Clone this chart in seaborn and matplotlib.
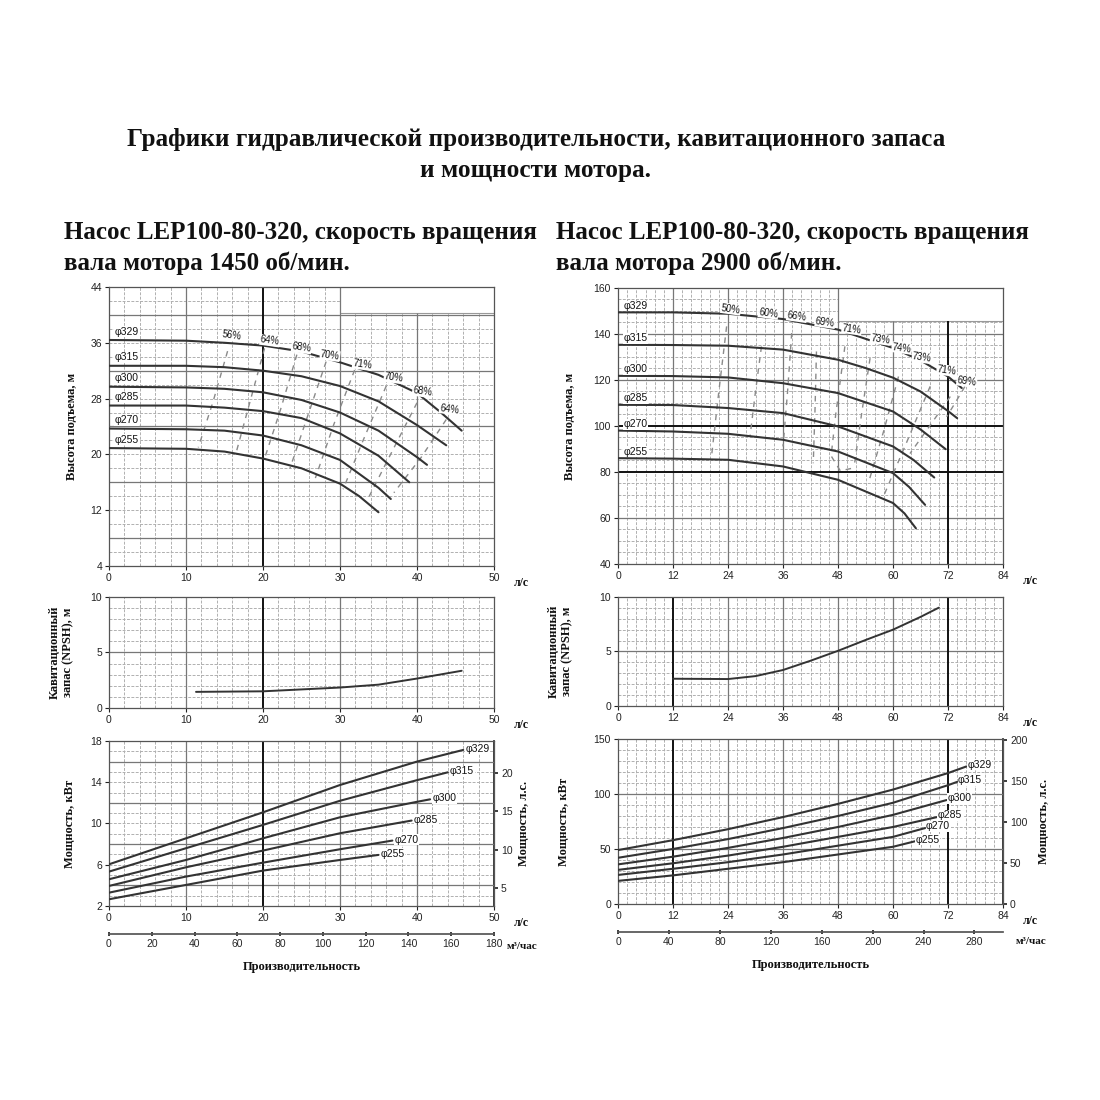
import matplotlib
matplotlib.use('Agg')
import matplotlib.pyplot as plt
import seaborn as sns

sns.set_theme(style='white')
plt.rcParams['font.family'] = ['Liberation Sans', 'DejaVu Sans']
plt.rcParams['text.color'] = '#111111'
plt.rcParams['axes.labelcolor'] = '#111111'

SERIF = ['Liberation Serif', 'DejaVu Serif']

# ---------------- data ----------------
diameters = ['φ329', 'φ315', 'φ300', 'φ285', 'φ270', 'φ255']

# 1450 rpm: head, л/с -> м
h1450_q = [[0, 10, 15, 20, 25, 30, 35, 40, 43, 45.8],
           [0, 10, 15, 20, 25, 30, 35, 40, 43.8],
           [0, 10, 15, 20, 25, 30, 35, 40, 41.3],
           [0, 10, 15, 20, 25, 30, 35, 39],
           [0, 10, 15, 20, 25, 30, 35, 36.6],
           [0, 10, 15, 20, 25, 30, 32.5, 35]]
h1450_h = [[36.4, 36.3, 36.0, 35.6, 34.75, 33.2, 31.4, 28.8, 26.1, 23.4],
           [32.7, 32.7, 32.5, 32.0, 31.2, 29.8, 27.6, 24.2, 21.3],
           [29.7, 29.6, 29.4, 28.9, 27.8, 26.0, 23.4, 19.6, 18.5],
           [27.0, 27.0, 26.7, 26.2, 25.2, 23.0, 19.8, 16.0],
           [23.7, 23.6, 23.4, 22.7, 21.3, 19.2, 15.2, 13.6],
           [20.9, 20.8, 20.4, 19.4, 18.0, 15.8, 14.0, 11.7]]

eff1450_labels = ['56%', '64%', '68%', '70%', '71%', '70%', '68%', '64%']
eff1450_lx = [15.9, 20.9, 25.0, 28.7, 32.9, 37.0, 40.7, 44.2]
eff1450_ly = [37.0, 36.3, 35.3, 34.2, 32.9, 31.0, 29.0, 26.5]
eff1450_q = [[15.4, 13.5, 11.6], [20.2, 18.3, 16.5], [24.4, 22.3, 20.2],
             [28.2, 25.8, 23.5], [31.9, 29.2, 26.8], [36.0, 33.0, 30.4],
             [40.0, 36.8, 33.8], [43.8, 40.5, 37.0]]
eff1450_h = [[34.8, 27.5, 21.0], [35.2, 27.5, 20.2], [34.3, 26.5, 19.4],
             [33.3, 25.5, 18.0], [32.1, 24.3, 16.6], [29.8, 22.0, 15.0],
             [27.4, 20.5, 14.0], [25.0, 19.5, 14.5]]

npsh1450_q = [11.3, 20, 30, 35, 40, 45.8]
npsh1450_v = [1.45, 1.5, 1.84, 2.1, 2.65, 3.35]

p1450_q = [[0, 10, 20, 30, 40, 46],
           [0, 10, 20, 30, 40, 44],
           [0, 10, 20, 30, 40, 41.7],
           [0, 10, 20, 30, 39.3],
           [0, 10, 20, 30, 36.8],
           [0, 10, 20, 30, 35]]
p1450_p = [[6.04, 8.56, 11.08, 13.73, 16.0, 17.13],
           [5.33, 7.6, 9.86, 12.2, 14.2, 14.96],
           [4.59, 6.46, 8.56, 10.6, 12.1, 12.34],
           [3.94, 5.75, 7.37, 9.05, 10.28],
           [3.29, 4.85, 6.2, 7.5, 8.34],
           [2.65, 4.04, 5.43, 6.46, 6.95]]

# 2900 rpm
h2900_q = [[0, 12, 24, 36, 48, 60, 66, 72, 75],
           [0, 12, 24, 36, 48, 54, 60, 66, 72, 74],
           [0, 12, 24, 36, 48, 60, 66, 71.5],
           [0, 12, 24, 36, 48, 60, 64.5, 69],
           [0, 12, 24, 36, 48, 60, 63.5, 67],
           [0, 12, 24, 36, 48, 60, 62.5, 65]]
h2900_h = [[149.4, 149.4, 148.8, 146.5, 141.9, 133.9, 128.5, 121.5, 116.5],
           [135.3, 135.2, 134.9, 133.2, 128.8, 125.2, 121.0, 115.0, 106.5, 103.4],
           [121.8, 121.7, 121.1, 118.6, 114.3, 106.3, 98.5, 89.9],
           [109.2, 109.1, 107.8, 105.6, 99.8, 91.1, 85.2, 77.6],
           [98.0, 97.6, 96.6, 94.0, 88.9, 79.5, 73.5, 65.7],
           [86.0, 85.8, 85.3, 82.4, 76.6, 66.5, 62.0, 55.5]]

eff2900_labels = ['50%', '60%', '66%', '69%', '71%', '73%', '74%', '73%', '71%', '69%']
eff2900_lx = [24.6, 32.8, 39.0, 45.2, 51.0, 57.2, 61.9, 66.3, 71.7, 76.1]
eff2900_ly = [150.9, 149.1, 147.7, 145.1, 142.2, 137.8, 133.9, 129.8, 124.2, 119.4]
eff2900_q = [[23.7, 22.0, 20.4], [31.3, 30.0, 28.8], [37.9, 37.0, 36.0],
             [43.3, 43.0, 42.6], [49.5, 47.5, 46.5, 48.5, 52.0],
             [55.0, 53.2, 51.5], [61.2, 58.0, 54.6], [68.1, 63.0, 57.9],
             [72.5, 68.0, 63.7], [75.7, 73.7, 71.7]]
eff2900_h = [[143.3, 115.0, 86.7], [134.6, 115.0, 95.4], [140.4, 115.0, 91.1],
             [132.4, 108.0, 83.8], [134.6, 105.0, 87.0, 80.5, 82.0],
             [129.5, 106.0, 82.0], [121.5, 98.0, 75.0], [117.2, 93.0, 69.3],
             [112.8, 100.0, 88.0], [117.2, 110.5, 104.0]]

npsh2900_q = [12, 24, 30, 36, 42, 48, 54, 60, 66, 70]
npsh2900_v = [2.5, 2.47, 2.74, 3.3, 4.15, 5.06, 6.05, 7.0, 8.17, 9.02]

p2900_q = [[0, 12, 24, 36, 48, 60, 72, 76],
           [0, 12, 24, 36, 48, 60, 72, 74],
           [0, 12, 24, 36, 48, 60, 71.7],
           [0, 12, 24, 36, 48, 60, 69.6],
           [0, 12, 24, 36, 48, 60, 67],
           [0, 12, 24, 36, 48, 60, 64.8]]
p2900_p = [[49, 58, 68, 79, 91, 104, 119, 125],
           [42, 50, 59, 69, 80, 92, 108, 111],
           [36, 43, 51, 60, 70, 81, 94.5],
           [31, 37, 44, 52, 61, 70, 79],
           [26.4, 32, 38, 45, 53, 61, 69],
           [21, 26, 32, 38, 45, 52, 57]]

KW_TO_HP = 1.341
LS_TO_M3H = 3.6

# ---------------- helpers ----------------
LINE = '#333333'
TICK_FS = 7.5


def grid(ax, xs, ys, xmaj, ymaj, xlim, ylim, cut=None, dark_x=(), dark_y=()):
    for v in xs:
        top = ylim[1]
        if cut is not None and v > cut[0]:
            top = cut[1]
        if v in dark_x:
            ax.vlines(v, ylim[0], top, color='#111111', lw=1.4, zorder=1.5)
        elif v % xmaj == 0:
            ax.vlines(v, ylim[0], top, color='#777777', lw=0.9, zorder=1.2)
        else:
            ax.vlines(v, ylim[0], top, color='#b0b0b0', lw=0.7,
                      linestyles=(0, (3, 1.5)), zorder=1)
    for v in ys:
        right = xlim[1]
        if cut is not None and v > cut[1]:
            right = cut[0]
        if v in dark_y:
            ax.hlines(v, xlim[0], right, color='#111111', lw=1.4, zorder=1.5)
        elif v % ymaj == 0:
            ax.hlines(v, xlim[0], right, color='#777777', lw=0.9, zorder=1.2)
        else:
            ax.hlines(v, xlim[0], right, color='#b0b0b0', lw=0.7,
                      linestyles=(0, (3, 1.5)), zorder=1)
    if cut is not None:
        ax.hlines(cut[1], cut[0], xlim[1], color='#999999', lw=0.8, zorder=1)


def style(ax, xlim, ylim, xticks, yticks):
    ax.set_xlim(*xlim)
    ax.set_ylim(*ylim)
    ax.set_xticks(xticks)
    ax.set_yticks(yticks)
    ax.tick_params(labelsize=TICK_FS, length=3, width=0.8, pad=2,
                   direction='out', bottom=True, left=True, colors='#222222')
    for s in ax.spines.values():
        s.set_color('#555555')
        s.set_linewidth(0.9)
    ax.annotate('л/с', xy=(1, 0), xycoords='axes fraction', xytext=(14, -12),
                textcoords='offset points', fontsize=8.5, family=SERIF,
                fontweight='bold', va='center', ha='left')


def curves(ax, qs, vs):
    for q, v in zip(qs, vs):
        sns.lineplot(x=q, y=v, ax=ax, color=LINE, lw=1.5, sort=False,
                     estimator=None, zorder=3)


def ylabel(ax, text, xpos):
    ax.set_ylabel(text, family=SERIF, fontweight='bold', fontsize=9)
    ax.yaxis.set_label_coords(xpos, 0.5)


fig = plt.figure(figsize=(11, 11), dpi=100)

fig.text(0.487, 0.873, 'Графики гидравлической производительности, кавитационного запаса',
         ha='center', va='center', family=SERIF, fontweight='bold', fontsize=18.2)
fig.text(0.487, 0.845, 'и мощности мотора.', ha='center', va='center',
         family=SERIF, fontweight='bold', fontsize=18.2)
fig.text(0.058, 0.7745, 'Насос LEP100-80-320, скорость вращения\nвала мотора 1450 об/мин.',
         ha='left', va='center', family=SERIF, fontweight='bold', fontsize=18,
         linespacing=1.45)
fig.text(0.505, 0.7745, 'Насос LEP100-80-320, скорость вращения\nвала мотора 2900 об/мин.',
         ha='left', va='center', family=SERIF, fontweight='bold', fontsize=18,
         linespacing=1.45)

# ================= 1450 rpm =================
L0, W = 109 / 1100, 385 / 1100
ax1 = fig.add_axes([L0, 0.4855, W, 0.2536])
xl, yl = (0, 50), (4, 44)
grid(ax1, range(2, 50, 2), range(6, 44, 2), 10, 8, xl, yl, cut=(30, 40.3),
     dark_x=(20,))
curves(ax1, h1450_q, h1450_h)
for q, h in zip(eff1450_q, eff1450_h):
    sns.lineplot(x=q, y=h, ax=ax1, color='#8a8a8a', lw=1.0, sort=False,
                 estimator=None, linestyle=(0, (4, 4)), zorder=2)
for lab, x, y in zip(eff1450_labels, eff1450_lx, eff1450_ly):
    ax1.text(x, y, lab, fontsize=7, ha='center', va='center', rotation=-8,
             zorder=4, bbox=dict(fc='white', ec='none', pad=0.3))
for lab, h in zip(diameters, h1450_h):
    ax1.text(0.7, h[0] + 1.2, lab, fontsize=7.5, ha='left', va='center',
             zorder=4, bbox=dict(fc='white', ec='none', pad=0.3))
style(ax1, xl, yl, range(0, 51, 10), range(4, 45, 8))
ylabel(ax1, 'Высота подъема, м', -0.08)

ax2 = fig.add_axes([L0, 0.3564, W, 0.1009])
xl, yl = (0, 50), (0, 10)
grid(ax2, range(2, 50, 2), range(1, 10, 1), 10, 5, xl, yl, dark_x=(20,))
sns.lineplot(x=npsh1450_q, y=npsh1450_v, ax=ax2, color=LINE, lw=1.4,
             estimator=None, zorder=3)
style(ax2, xl, yl, range(0, 51, 10), [0, 5, 10])
ylabel(ax2, 'Кавитационный\nзапас (NPSH), м', -0.09)

ax3 = fig.add_axes([L0, 0.1764, W, 0.15])
xl, yl = (0, 50), (2, 18)
grid(ax3, range(2, 50, 2), range(3, 18, 1), 10, 4, xl, yl, dark_x=(20,))
curves(ax3, p1450_q, p1450_p)
for lab, q, p in zip(diameters, p1450_q, p1450_p):
    ax3.text(q[-1] + 0.3, p[-1] + 0.1, lab, fontsize=7.5, ha='left',
             va='center', zorder=4, bbox=dict(fc='white', ec='none', pad=0.3))
style(ax3, xl, yl, range(0, 51, 10), range(2, 19, 4))
ylabel(ax3, 'Мощность, кВт', -0.085)
hp = ax3.secondary_yaxis('right', functions=(lambda k: k * KW_TO_HP,
                                             lambda h: h / KW_TO_HP))
hp.set_yticks([5, 10, 15, 20])
hp.tick_params(labelsize=TICK_FS, length=3, pad=2)
hp.set_ylabel('Мощность, л.с.', family=SERIF, fontweight='bold', fontsize=9,
              labelpad=4)
m3 = ax3.secondary_xaxis(-0.17, functions=(lambda q: q * LS_TO_M3H,
                                           lambda m: m / LS_TO_M3H))
m3.set_xticks(range(0, 181, 20))
m3.tick_params(labelsize=TICK_FS, length=3, pad=2, direction='inout')
m3.spines['bottom'].set_color('#555555')
m3.set_xlabel('Производительность', family=SERIF, fontweight='bold',
              fontsize=9, labelpad=9)
ax3.annotate('м³/час', xy=(1, 0), xycoords='axes fraction', xytext=(9, -29),
             textcoords='offset points', fontsize=8, family=SERIF,
             fontweight='bold', va='center', ha='left')

# ================= 2900 rpm =================
R0 = 618 / 1100
bx1 = fig.add_axes([R0, 0.4873, W, 0.2509])
xl, yl = (0, 84), (40, 160)
grid(bx1, range(2, 84, 2), range(45, 160, 5), 12, 20, xl, yl, cut=(48, 145.5),
     dark_x=(72,), dark_y=(80, 100))
curves(bx1, h2900_q, h2900_h)
for q, h in zip(eff2900_q, eff2900_h):
    sns.lineplot(x=q, y=h, ax=bx1, color='#8a8a8a', lw=1.0, sort=False,
                 estimator=None, linestyle=(0, (4, 4)), zorder=2)
for lab, x, y in zip(eff2900_labels, eff2900_lx, eff2900_ly):
    bx1.text(x, y, lab, fontsize=7, ha='center', va='center', rotation=-8,
             zorder=4, bbox=dict(fc='white', ec='none', pad=0.3))
for lab, h in zip(diameters, h2900_h):
    bx1.text(1.2, h[0] + 2.8, lab, fontsize=7.5, ha='left', va='center',
             zorder=4, bbox=dict(fc='white', ec='none', pad=0.3))
style(bx1, xl, yl, range(0, 85, 12), range(40, 161, 20))
ylabel(bx1, 'Высота подъема, м', -0.11)

bx2 = fig.add_axes([R0, 0.3582, W, 0.0991])
xl, yl = (0, 84), (0, 10)
grid(bx2, range(2, 84, 2), range(1, 10, 1), 12, 5, xl, yl, dark_x=(12, 72))
sns.lineplot(x=npsh2900_q, y=npsh2900_v, ax=bx2, color=LINE, lw=1.4,
             estimator=None, zorder=3)
style(bx2, xl, yl, range(0, 85, 12), [0, 5, 10])
ylabel(bx2, 'Кавитационный\nзапас (NPSH), м', -0.115)

bx3 = fig.add_axes([R0, 0.1782, W, 0.15])
xl, yl = (0, 84), (0, 150)
grid(bx3, range(2, 84, 2), range(10, 150, 10), 12, 50, xl, yl, dark_x=(12, 72))
curves(bx3, p2900_q, p2900_p)
for lab, q, p in zip(diameters, p2900_q, p2900_p):
    bx3.text(q[-1] + 0.2, p[-1] + 1.5, lab, fontsize=7.5, ha='left',
             va='center', zorder=4, bbox=dict(fc='white', ec='none', pad=0.3))
style(bx3, xl, yl, range(0, 85, 12), [0, 50, 100, 150])
ylabel(bx3, 'Мощность, кВт', -0.125)
hp2 = bx3.secondary_yaxis('right', functions=(lambda k: k * KW_TO_HP,
                                              lambda h: h / KW_TO_HP))
hp2.set_yticks([0, 50, 100, 150, 200])
hp2.tick_params(labelsize=TICK_FS, length=3, pad=2)
hp2.set_ylabel('Мощность, л.с.', family=SERIF, fontweight='bold', fontsize=9,
               labelpad=8)
m3b = bx3.secondary_xaxis(-0.17, functions=(lambda q: q * LS_TO_M3H,
                                            lambda m: m / LS_TO_M3H))
m3b.set_xticks(range(0, 281, 40))
m3b.tick_params(labelsize=TICK_FS, length=3, pad=2, direction='inout')
m3b.spines['bottom'].set_color('#555555')
m3b.set_xlabel('Производительность', family=SERIF, fontweight='bold',
               fontsize=9, labelpad=9)
bx3.annotate('м³/час', xy=(1, 0), xycoords='axes fraction', xytext=(9, -27),
             textcoords='offset points', fontsize=8, family=SERIF,
             fontweight='bold', va='center', ha='left')

for a in (ax1, ax2, ax3, bx1, bx2, bx3):
    a.set_xlabel('')

fig.savefig('out.png', dpi=100, facecolor='white')
